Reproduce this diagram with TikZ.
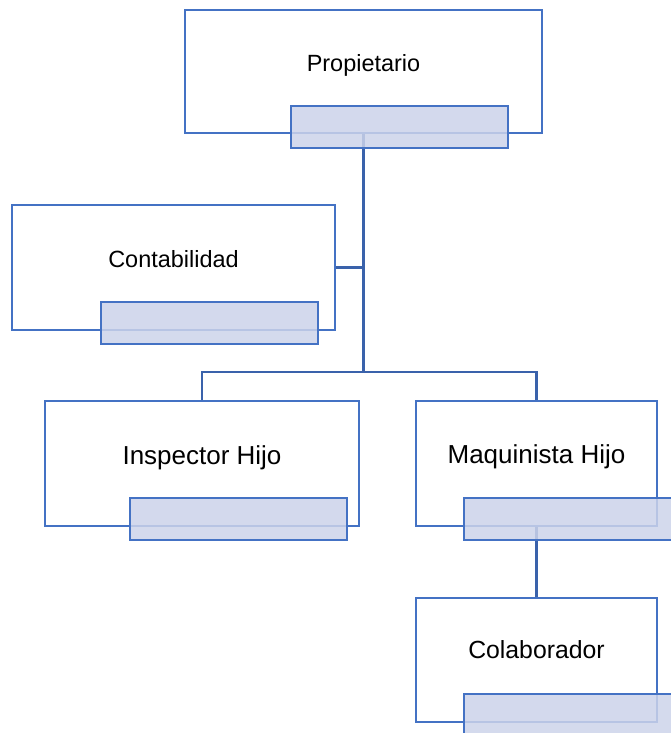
\documentclass[tikz,border=0pt]{standalone}
\usepackage{fontspec}
\setmainfont{Liberation Sans}
\usetikzlibrary{positioning}

\definecolor{boxblue}{RGB}{68,114,196}
\definecolor{linkblue}{RGB}{58,98,171}
\definecolor{tagfill}{RGB}{204,211,234}

\tikzset{
  unit/.style={draw=boxblue, line width=1.5pt, fill=white, rectangle, inner sep=0pt},
  tag/.style={draw=boxblue, line width=1.5pt, fill=tagfill, fill opacity=0.85,
              rectangle, minimum width=217*0.75pt, minimum height=42*0.75pt, inner sep=0pt},
  title/.style={anchor=base, inner sep=0pt, font=\fontsize{#1}{21}\selectfont},
  title/.default=17.6,
  link/.style={draw=linkblue, line width=1.6pt}
}

\begin{document}
\begin{tikzpicture}[x=0.75pt,y=-0.75pt]
        \useasboundingbox (0,0) rectangle (671,733);

        % boxes
        \node[unit, minimum width=357*0.75pt, minimum height=123*0.75pt] (prop)  at (363.5,71.5) {};
        \node[unit, minimum width=323*0.75pt, minimum height=125*0.75pt] (cont)  at (173.5,267.5) {};
        \node[unit, minimum width=314*0.75pt, minimum height=125*0.75pt] (insp)  at (202,463.5) {};
        \node[unit, minimum width=241*0.75pt, minimum height=125*0.75pt] (maq)   at (536.5,463.5) {};
        \node[unit, minimum width=241*0.75pt, minimum height=124*0.75pt] (colab) at (536.5,660) {};

        \node[title] at (prop.center)  {Propietario};
        \node[title] at (cont.center)  {Contabilidad};
        \node[title=19.5] at ([yshift=-1pt]insp.center) {Inspector Hijo};
        \node[title=19.5] at (maq.center) {Maquinista Hijo};
        \node[title=18.6] at ([yshift=1.5pt]colab.center) {Colaborador};

        % connectors
        \coordinate (fork) at (prop.south |- 0,372);
        \draw[link] (prop.south) -- (fork);
        \draw[link] (cont.east) -- (cont.east -| fork);
        \draw[link] (insp.north) |- (fork) -| (maq.north);
        \draw[link] (maq.south) -- (colab.north);

        % name tags
        \node[tag] (prop-n)  at (399.5,127) {};
        \node[tag] (cont-n)  at (209.5,323) {};
        \node[tag] (insp-n)  at (238.5,519) {};
        \node[tag] (maq-n)   at (572.5,519) {};
        \node[tag] (colab-n) at (572.5,715) {};
\end{tikzpicture}
\end{document}
